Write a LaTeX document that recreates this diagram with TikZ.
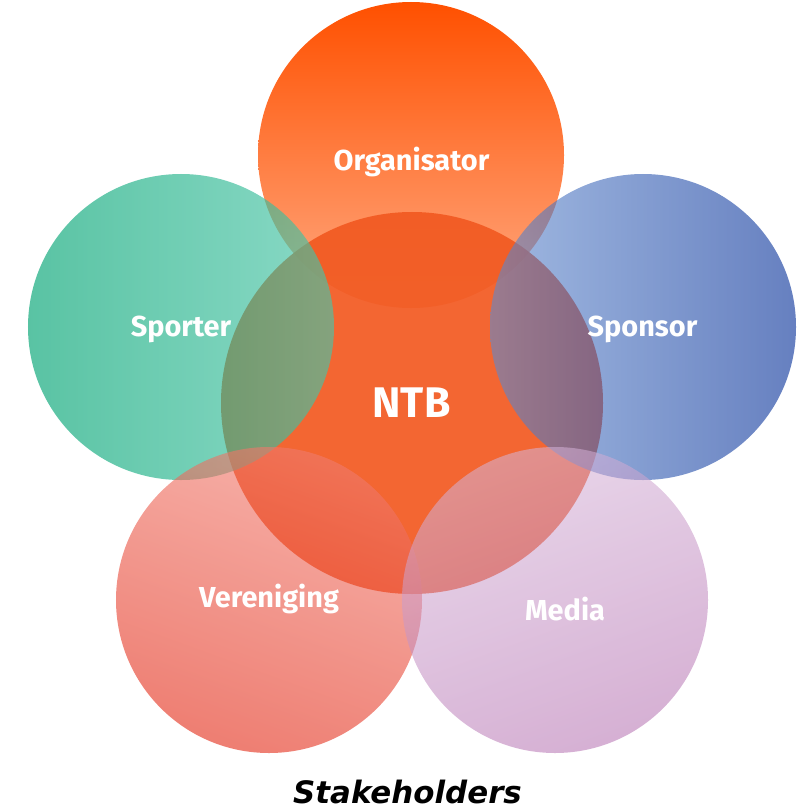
\documentclass[tikz,border=0pt]{standalone}
\usepackage{fontspec}
\newfontfamily\labelfont{Fira Sans}
\newfontfamily\titlefont{DejaVu Sans}
\definecolor{orgtop}{RGB}{255,80,0}
\definecolor{orgbot}{RGB}{255,170,130}
\definecolor{ntbcol}{RGB}{242,90,34}
\definecolor{spoL}{RGB}{0,163,114}
\definecolor{spoR}{RGB}{74,197,167}
\definecolor{sonL}{RGB}{97,138,205}
\definecolor{sonR}{RGB}{0,43,150}
\definecolor{verT}{RGB}{240,123,110}
\definecolor{verB}{RGB}{227,40,20}
\definecolor{medT}{RGB}{213,180,216}
\definecolor{medB}{RGB}{180,111,176}
\tikzset{
  bubble/.style={circle, inner sep=0pt, minimum size=#1, draw=none},
  lbl/.style={text=white, anchor=base, font=\labelfont\bfseries\fontsize{29}{34}\selectfont, inner sep=0pt},
}
\begin{document}
\begin{tikzpicture}[x=1bp,y=-1bp]
\useasboundingbox (0,0) rectangle (808,809);
% circles
\node[bubble=306bp, top color=orgtop, bottom color=orgbot] (org) at (411,155) {};
\node[bubble=382bp, fill=ntbcol, fill opacity=0.93] (ntb) at (412,403) {};
\node[bubble=306bp, left color=spoL, right color=spoR, fill opacity=0.65] (spo) at (181,327) {};
\node[bubble=306bp, left color=sonL, right color=sonR, fill opacity=0.6] (son) at (643,327) {};
\node[bubble=306bp, top color=verT, bottom color=verB, shading angle=-20, fill opacity=0.6] (ver) at (269,600) {};
\node[bubble=306bp, top color=medT, bottom color=medB, shading angle=20, fill opacity=0.55] (med) at (555,600) {};
% labels
\node[lbl] (orgl) at (411.5,170) {Organisator};
\node[lbl] (spol) at (181,336) {Sporter};
\node[lbl] (sonl) at (642.5,336) {Sponsor};
\node[lbl] (verl) at (269,607) {Vereniging};
\node[lbl] (medl) at (565,620) {Media};
\node[lbl, font=\labelfont\bfseries\fontsize{43}{50}\selectfont] (ntbl) at (411.5,417) {NTB};
\node[font=\titlefont\bfseries\itshape\fontsize{31}{36}\selectfont, inner sep=0pt, anchor=base] (title) at (407.5,803) {Stakeholders};
\end{tikzpicture}
\end{document}
